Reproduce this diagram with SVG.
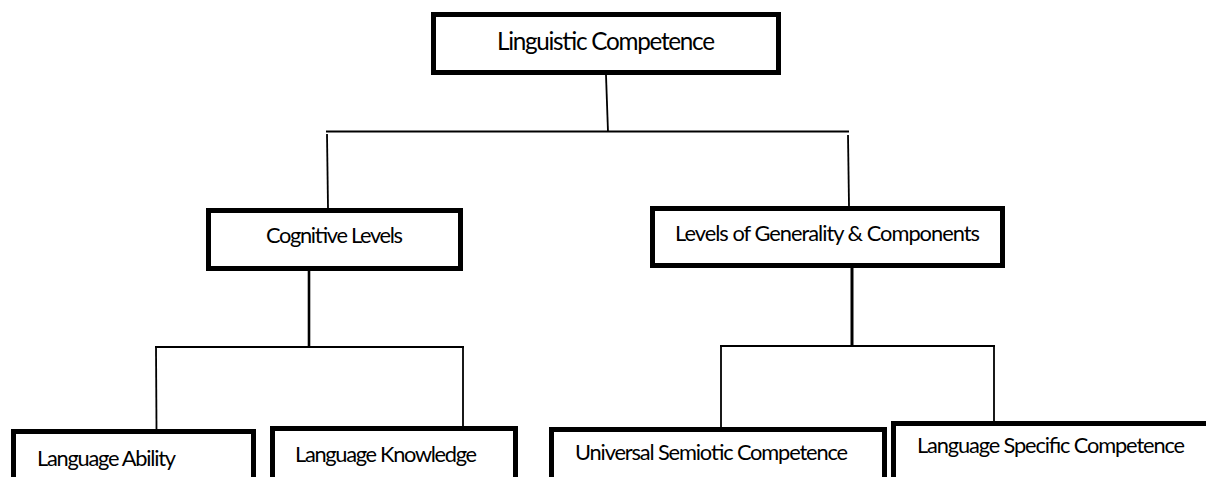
<svg xmlns="http://www.w3.org/2000/svg" width="1206" height="477" viewBox="0 0 1206 477">
<style>
.box{fill:#fff;stroke:#000;stroke-width:5}
.t{font-family:Lato,"Liberation Sans",sans-serif;fill:#000;font-size:21.8px}
.big{font-size:24.3px}
.c{stroke:#000;stroke-width:1.8;fill:none}
</style>
<rect width="1206" height="477" fill="#fff"/>
<g id="connectors">
<line class="c" x1="606" y1="75" x2="608" y2="132"/>
<line class="c" x1="326" y1="131.5" x2="849" y2="131.5"/>
<line class="c" x1="327" y1="134" x2="328" y2="208"/>
<line class="c" x1="848" y1="135" x2="849" y2="206"/>
<line class="c" x1="309" y1="271" x2="309" y2="348" style="stroke-width:2.6"/>
<line class="c" x1="155" y1="347" x2="464" y2="347"/>
<line class="c" x1="156" y1="347" x2="156.5" y2="429"/>
<line class="c" x1="463" y1="347" x2="463" y2="426"/>
<line class="c" x1="852" y1="268" x2="852" y2="347" style="stroke-width:3"/>
<line class="c" x1="720" y1="346" x2="995" y2="346"/>
<line class="c" x1="721" y1="346" x2="721" y2="427"/>
<line class="c" x1="994" y1="346" x2="994" y2="421"/>
</g>
<g id="linguistic-competence">
<rect class="box" x="433.5" y="14.5" width="345" height="58"/>
<text class="t big" x="497" y="50" textLength="218">Linguistic Competence</text>
</g>
<g id="cognitive-levels">
<rect class="box" x="208.5" y="210.5" width="252" height="58"/>
<text class="t" x="266" y="243" textLength="137">Cognitive Levels</text>
</g>
<g id="levels-of-generality">
<rect class="box" x="652.5" y="208.5" width="350" height="57"/>
<text class="t" x="675" y="241" textLength="305">Levels of Generality &amp; Components</text>
</g>
<g id="language-ability">
<rect class="box" x="13.5" y="431.5" width="240" height="80"/>
<text class="t" x="37" y="466" textLength="139">Language Ability</text>
</g>
<g id="language-knowledge">
<rect class="box" x="272.5" y="428.5" width="243" height="80"/>
<text class="t" x="295" y="462" textLength="182">Language Knowledge</text>
</g>
<g id="universal-semiotic-competence">
<rect class="box" x="551.5" y="429.5" width="333" height="80"/>
<text class="t" x="575" y="460" textLength="273">Universal Semiotic Competence</text>
</g>
<g id="language-specific-competence">
<rect class="box" x="893.5" y="423.5" width="320" height="80"/>
<text class="t" x="917" y="453" textLength="268">Language Specific Competence</text>
</g>
</svg>
